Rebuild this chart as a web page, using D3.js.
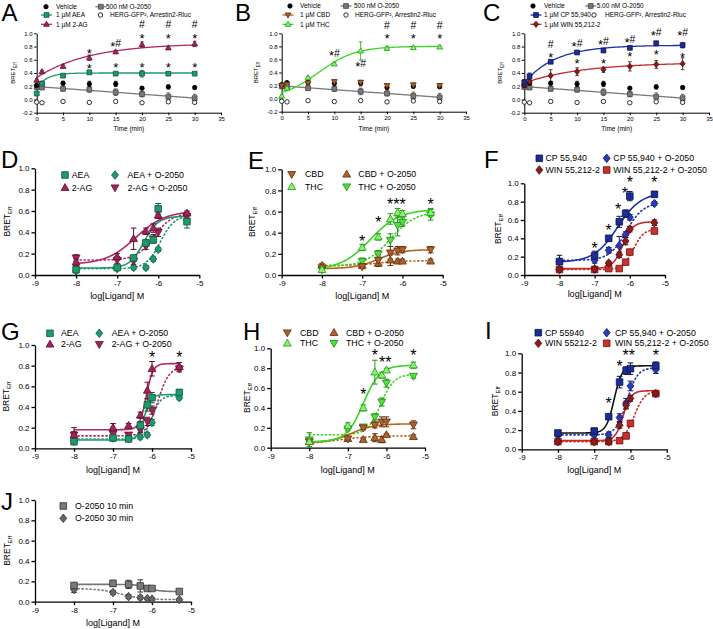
<!DOCTYPE html>
<html><head><meta charset="utf-8">
<script src="https://cdn.jsdelivr.net/npm/d3@7"></script>
<style>body{margin:0;background:#fff}svg{display:block}</style>
</head><body><svg id="c" width="713" height="629"></svg>
<script>
// ================= DATA =================
const timePoints=[0,1,5,10,15,20,25,30];
const logConc=[-8,-7,-6.6,-6.3,-6.12,-6,-5.3];
const timeXTicks=[0,5,10,15,20,25,30,35];
const timeYTicks=[-0.2,0,0.2,0.4,0.6,0.8,1.0];
const doseXTicks=[-9,-8,-7,-6,-5];
const doseYTicks=[0,0.2,0.4,0.6,0.8,1.0];

// time courses (A-C)
const vehicleT=[0.21,0.245,0.245,0.235,0.235,0.17,0.19,0.18];
const vehicleTErr=[0.03,0.02,0.03,0.04,0.04,0.02,0.03,0.02];
const o2050T=[0.19,0.18,0.16,0.15,0.11,0.08,0.04,0.02];
const o2050TErr=[0.04,0.03,0.03,0.04,0.05,0.04,0.06,0.06];
const hergT=[-0.04,-0.05,-0.03,-0.045,-0.03,-0.05,-0.035,-0.045];
const aeaT=[0.09,0.24,0.36,0.41,0.39,0.39,0.39,0.39];
const aeaTErr=[0.02,0.02,0.02,0.03,0.02,0.05,0.02,0.02];
const ag2T=[0.29,0.42,0.50,0.63,0.72,0.83,0.78,0.84];
const ag2TErr=[0.02,0.02,0.02,0.04,0.02,0.04,0.02,0.04];
const cbdT=[0.20,0.22,0.24,0.26,0.25,0.20,0.21,0.20];
const cbdTErr=[0.03,0.03,0.03,0.03,0.03,0.02,0.03,0.03];
const thcT=[0.04,0.16,0.32,0.53,0.73,0.77,0.78,0.79];
const thcTErr=[0.02,0.03,0.02,0.02,0.14,0.03,0.02,0.02];
const cpT=[0.26,0.35,0.57,0.71,0.74,0.78,0.85,0.82];
const cpTErr=[0.04,0.05,0.02,0.02,0.03,0.02,0.02,0.04];
const winT=[0.22,0.27,0.36,0.42,0.45,0.50,0.53,0.54];
const winTErr=[0.02,0.03,0.09,0.06,0.04,0.07,0.06,0.09];
// fitted curve parameters (time)
const o2050TFit=[0.195,-0.0058];          // linear
const aeaTFit=[0.16,0.40,0.55];           // one-phase association
const ag2TFit=[0.33,0.85,0.10];
const thcTFit=[0,0.80,7,3.5];             // logistic
const cpTFit=[0.25,0.82,0.17];
const winTFit=[0.25,0.56,0.09];

// D
const aeaD=[0.05,0.07,0.16,0.30,0.33,0.62,0.50], aeaDErr=[0.03,0.02,0.02,0.03,0.03,0.05,0.06];
const ag2D=[0.12,0.17,0.34,0.41,0.44,0.56,0.58], ag2DErr=[0.03,0.03,0.10,0.03,0.04,0.03,0.02];
const aeaOD=[0.04,0.06,0.07,0.07,0.15,0.24,0.52], aeaODErr=[0.01,0.01,0.02,0.02,0.02,0.02,0.04];
const ag2OD=[0.16,0.14,0.13,0.27,0.34,0.40,0.55], ag2ODErr=[0.03,0.03,0.03,0.03,0.04,0.04,0.04];
const aeaDFit=[0.065,0.55,-6.35,2.5], ag2DFit=[0.10,0.60,-6.55,1.2], aeaODFit=[0.06,0.56,-5.95,2.5], ag2ODFit=[0.14,0.58,-6.1,2];
// E
const cbdE=[0.07,0.08,0.14,0.21,0.23,0.24,0.24], cbdEErr=[0.02,0.02,0.05,0.06,0.04,0.03,0.03];
const thcE=[0.05,0.26,0.36,0.53,0.59,0.58,0.59], thcEErr=[0.02,0.03,0.03,0.05,0.04,0.03,0.04];
const cbdOE=[0.09,0.09,0.11,0.14,0.13,0.13,0.13], cbdOEErr=[0.02,0.02,0.03,0.05,0.02,0.02,0.02];
const thcOE=[0.05,0.13,0.20,0.33,0.47,0.50,0.57], thcOEErr=[0.02,0.03,0.03,0.06,0.10,0.04,0.05];
const cbdEFit=[0.06,0.24,-6.6,1.5], thcEFit=[0.05,0.62,-6.8,1.2], cbdOEFit=[0.09,0.135,-6.6,1.5], thcOEFit=[0.08,0.60,-6.3,1.4];
// F
const cpF=[0.145,0.21,0.40,0.58,0.67,0.86,0.88], cpFErr=[0.07,0.05,0.03,0.06,0.04,0.05,0.03];
const winF=[0.06,0.065,0.13,0.22,0.37,0.50,0.57], winFErr=[0.02,0.02,0.02,0.03,0.04,0.03,0.03];
const cpOF=[0.15,0.16,0.27,0.32,0.44,0.63,0.78], cpOFErr=[0.02,0.03,0.03,0.10,0.03,0.03,0.02];
const winOF=[0.06,0.06,0.07,0.07,0.14,0.25,0.48], winOFErr=[0.02,0.03,0.02,0.02,0.02,0.02,0.03];
const cpFFit=[0.14,0.90,-6.35,1.3], winFFit=[0.07,0.58,-6.2,3], cpOFFit=[0.16,0.79,-6.1,1.8], winOFFit=[0.06,0.50,-5.9,3];
// G
const aeaG=[0.065,0.10,0.09,0.22,0.42,0.49,0.54], aeaGErr=[0.03,0.03,0.02,0.04,0.06,0.05,0.03];
const ag2G=[0.13,0.20,0.22,0.32,0.56,0.77,0.79], ag2GErr=[0.03,0.04,0.02,0.03,0.08,0.07,0.04];
const aeaOG=[0.07,0.10,0.10,0.11,0.13,0.25,0.49], aeaOGErr=[0.02,0.02,0.02,0.02,0.02,0.03,0.02];
const ag2OG=[0.13,0.14,0.13,0.18,0.26,0.37,0.77], ag2OGErr=[0.07,0.02,0.02,0.03,0.04,0.04,0.03];
const aeaGFit=[0.08,0.52,-6.2,5], ag2GFit=[0.18,0.82,-6.15,5], aeaOGFit=[0.09,0.51,-6.0,4], ag2OGFit=[0.12,0.79,-5.85,3];
// H
const cbdH=[0.06,0.09,0.20,0.23,0.26,0.26,0.23], cbdHErr=[0.02,0.02,0.02,0.03,0.05,0.05,0.04];
const thcH=[0.06,0.22,0.40,0.76,0.73,0.78,0.83], thcHErr=[0.02,0.03,0.03,0.12,0.03,0.02,0.03];
const cbdOH=[0.06,0.09,0.08,0.10,0.08,0.13,0.11], cbdOHErr=[0.02,0.02,0.01,0.04,0.03,0.01,0.02];
const thcOH=[0.08,0.19,0.21,0.31,0.46,0.65,0.72], thcOHErr=[0.07,0.02,0.02,0.03,0.04,0.04,0.02];
const cbdHFit=[0.05,0.24,-6.9,1.5], thcHFit=[0.06,0.83,-6.6,2], cbdOHFit=[0.03,0.12,-7.3,1], thcOHFit=[0.13,0.74,-6.15,2.5];
// I
const cpI=[0.17,0.19,0.34,0.70,0.82,0.84,0.87], cpIErr=[0.02,0.03,0.02,0.06,0.04,0.06,0.04];
const winI=[0.08,0.08,0.08,0.25,0.46,0.53,0.58], winIErr=[0.02,0.02,0.02,0.03,0.04,0.03,0.02];
const cpOI=[0.15,0.15,0.15,0.33,0.48,0.66,0.83], cpOIErr=[0.02,0.02,0.03,0.04,0.05,0.05,0.04];
const winOI=[0.08,0.08,0.08,0.09,0.14,0.27,0.58], winOIErr=[0.02,0.02,0.02,0.02,0.03,0.03,0.02];
const cpIFit=[0.17,0.87,-6.45,4], winIFit=[0.09,0.61,-6.2,4], cpOIFit=[0.15,0.85,-6.1,3], winOIFit=[0.08,0.61,-5.9,3];
// J
const o10J=[0.16,0.18,0.17,0.155,0.13,0.13,0.10], o10JErr=[0.02,0.03,0.04,0.06,0.02,0.02,0.02];
const o30J=[0.12,0.09,0.05,0.04,0.03,0.025,0.02], o30JErr=[0.03,0.02,0.02,0.02,0.01,0.01,0.01];
const o10JFit=[0.17,0.10,-6.1,3], o30JFit=[0.13,0.02,-6.8,1.5];

// significance labels [x, y, text]
const notesA=[[10,0.74,'*'],[10,0.52,'*'],[15,0.85,'*#'],[15,0.53,'*'],[20,1.13,'#'],[20,0.96,'*'],[20,0.53,'*'],[25,1.13,'#'],[25,0.96,'*'],[25,0.53,'*'],[30,1.13,'#'],[30,0.96,'*'],[30,0.53,'*']];
const notesB=[[10,0.70,'*#'],[15,0.54,'*#'],[20,1.13,'#'],[20,0.96,'*'],[25,1.13,'#'],[25,0.96,'*'],[30,1.13,'#'],[30,0.96,'*']];
const notesC=[[5,0.84,'#'],[5,0.68,'*'],[10,0.85,'*#'],[10,0.59,'*'],[15,0.88,'*#'],[15,0.59,'*'],[20,0.91,'*#'],[20,0.69,'*'],[25,1.01,'*#'],[25,0.72,'*'],[30,1.01,'*#'],[30,0.68,'*']];
const notesE=[[-7,0.356,'*'],[-6.6,0.536,'*'],[-6.15,0.70,'***'],[-5.3,0.70,'*']];
const notesF=[[-7,0.327,'*'],[-6.6,0.527,'*'],[-6.33,0.76,'*'],[-6.14,0.93,'*'],[-6,1.05,'*'],[-5.3,1.05,'*']];
const notesG=[[-6,0.92,'*'],[-5.3,0.92,'*']];
const notesH=[[-6.6,0.574,'*'],[-6.3,0.966,'*'],[-6.03,0.90,'**'],[-5.3,0.966,'*']];
const notesI=[[-6.6,0.514,'*'],[-6.3,0.90,'*'],[-6.05,1.02,'**'],[-5.3,1.02,'*']];

// ================= STYLES =================
const FONT='"Liberation Sans", Arial, Helvetica, sans-serif';
const ST={
 vehicle:{m:'circle',fill:'#000',stroke:'#000'},
 herg:{m:'circle',fill:'#fff',stroke:'#000'},
 o2050:{m:'square',fill:'#7a7a7a',stroke:'#454545',line:'#7a7a7a'},
 aea:{m:'square',fill:'#1d9b6c',stroke:'#0c5a3a',line:'#1f9a6a'},
 aeaO:{m:'diamond',fill:'#1d9b6c',stroke:'#0c5a3a',line:'#1f9a6a'},
 ag2:{m:'tri',fill:'#a4225e',stroke:'#60102f',line:'#b0286a'},
 ag2O:{m:'tridown',fill:'#a4225e',stroke:'#60102f',line:'#b0286a'},
 cbd:{m:'tridown',fill:'#b0602a',stroke:'#5e300e',line:'#b5651d'},
 cbdO:{m:'tri',fill:'#b0602a',stroke:'#5e300e',line:'#b5651d'},
 thc:{m:'tri',fill:'#8cf070',stroke:'#229a18',line:'#38d620'},
 thcO:{m:'tridown',fill:'#4fe23a',stroke:'#1e8a14',line:'#38d620'},
 cp:{m:'square',fill:'#1c2d96',stroke:'#0a1450',line:'#1a32a8'},
 cpO:{m:'diamond',fill:'#2a3cb4',stroke:'#0e1a6a',line:'#1a32a8'},
 win:{m:'diamond',fill:'#8c1c1c',stroke:'#4a0a0a',line:'#c42a2a'},
 winO:{m:'square',fill:'#c8322a',stroke:'#701010',line:'#c42a2a'},
 cpI:{m:'square',fill:'#1c2d96',stroke:'#0a1450',line:'#111'},
 o10:{m:'square',fill:'#7a7a7a',stroke:'#333',line:'#777'},
 o30:{m:'diamond',fill:'#666',stroke:'#333',line:'#777'}
};
const TOP={tick:2.5,pad:1.5,axisW:1,tickFont:6,legFont:6.5,titleFont:6.5,ylabFont:6,subFont:4.5,mr:2.4,cap:1.8,lineW:1.3,errW:0.8,star:13,hash:10.5};
const LOW={tick:3.5,pad:2,axisW:1.3,tickFont:8,legFont:8.8,titleFont:9,ylabFont:8.5,subFont:6,mr:3.3,cap:2.8,lineW:1.6,errW:1,star:16,hash:12};

const panels=[
{L:'A',lp:[1.5,20.5],t:true,box:[36.7,221,33.3,112.7],ylx:13,xly:131,notes:notesA,
 series:[
  {name:'500 nM O-2050',y:o2050T,e:o2050TErr,st:'o2050',fit:{type:'linear',p:o2050TFit}},
  {name:'Vehicle',y:vehicleT,e:vehicleTErr,st:'vehicle'},
  {name:'HERG-GFP², Arrestin2-Rluc',y:hergT,st:'herg'},
  {name:'1 µM AEA',y:aeaT,e:aeaTErr,st:'aea',fit:{type:'assoc',p:aeaTFit}},
  {name:'1 µM 2-AG',y:ag2T,e:ag2TErr,st:'ag2',fit:{type:'assoc',p:ag2TFit}}],
 legend:[[1,46,56,6.7],[0,100.8,106,6.7],[3,46.5,56,15],[2,100.5,110,15],[4,46.5,56,24.3]]},
{L:'B',lp:[235,20.5],t:true,box:[281.7,466,33.3,111.7],ylx:256,xly:131,notes:notesB,
 series:[
  {name:'500 nM O-2050',y:o2050T,e:o2050TErr,st:'o2050',fit:{type:'linear',p:o2050TFit}},
  {name:'Vehicle',y:vehicleT,e:vehicleTErr,st:'vehicle'},
  {name:'HERG-GFP², Arrestin2-Rluc',y:hergT,st:'herg'},
  {name:'1 µM CBD',y:cbdT,e:cbdTErr,st:'cbd',legLine:true},
  {name:'1 µM THC',y:thcT,e:thcTErr,st:'thc',fit:{type:'logistic',p:thcTFit}}],
 legend:[[1,290,300,6],[0,346,354,6],[3,288,300,15],[2,346,355,15],[4,288,300,24.3]]},
{L:'C',lp:[483,20.5],t:true,box:[524.3,709,33.3,112.7],ylx:500,xly:131,notes:notesC,
 series:[
  {name:'5.00 nM O-2050',y:o2050T,e:o2050TErr,st:'o2050',fit:{type:'linear',p:o2050TFit}},
  {name:'Vehicle',y:vehicleT,e:vehicleTErr,st:'vehicle'},
  {name:'HERG-GFP², Arrestin2-Rluc',y:hergT,st:'herg'},
  {name:'1 µM WIN 55,212-2',y:winT,e:winTErr,st:'win',fit:{type:'assoc',p:winTFit}},
  {name:'1 µM CP 55,940',y:cpT,e:cpTErr,st:'cp',fit:{type:'assoc',p:cpTFit}}],
 legend:[[1,533,544,6],[0,590.7,596.7,6],[4,536,544,15],[2,594,605,15],[3,536,544,24.3]]},
{L:'D',lp:[1,168],box:[35,199.3,168.3,275],ylx:7,xly:299,notes:[],
 series:[
  {name:'AEA + O-2050',y:aeaOD,e:aeaODErr,st:'aeaO',fit:{p:aeaODFit,dash:true}},
  {name:'2-AG + O-2050',y:ag2OD,e:ag2ODErr,st:'ag2O',fit:{p:ag2ODFit,dash:true}},
  {name:'AEA',y:aeaD,e:aeaDErr,st:'aea',fit:{p:aeaDFit}},
  {name:'2-AG',y:ag2D,e:ag2DErr,st:'ag2',fit:{p:ag2DFit}}],
 legend:[[2,65,71.7,175],[0,115,127.5,175],[3,65,71.7,187.7],[1,115,127.5,187.7]]},
{L:'E',lp:[248,169],box:[281.7,442.7,169.3,275],ylx:252,xly:299,notes:notesE,
 series:[
  {name:'CBD + O-2050',y:cbdOE,e:cbdOEErr,st:'cbdO',fit:{p:cbdOEFit,dash:true}},
  {name:'THC + O-2050',y:thcOE,e:thcOEErr,st:'thcO',fit:{p:thcOEFit,dash:true}},
  {name:'CBD',y:cbdE,e:cbdEErr,st:'cbd',fit:{p:cbdEFit}},
  {name:'THC',y:thcE,e:thcEErr,st:'thc',fit:{p:thcEFit}}],
 legend:[[2,291.7,305,174.3],[0,346.7,358.3,174.3],[3,291.7,305,186.7],[1,346.7,358.3,186.7]]},
{L:'F',lp:[484,168],box:[524.3,665,183.3,275],ylx:498,xly:297,notes:notesF,
 series:[
  {name:'CP 55,940 + O-2050',y:cpOF,e:cpOFErr,st:'cpO',fit:{p:cpOFFit,dash:true}},
  {name:'WIN 55,212-2 + O-2050',y:winOF,e:winOFErr,st:'winO',fit:{p:winOFFit,dash:true}},
  {name:'CP 55,940',y:cpF,e:cpFErr,st:'cp',fit:{p:cpFFit}},
  {name:'WIN 55,212-2',y:winF,e:winFErr,st:'win',fit:{p:winFFit}}],
 legend:[[2,539.3,545.5,158.3],[0,606.7,613.3,158.3],[3,539.3,545.5,170],[1,606.7,613.3,170]]},
{L:'G',lp:[1,340],box:[35,191,345,448.3],ylx:5.5,xly:473,notes:notesG,
 series:[
  {name:'AEA + O-2050',y:aeaOG,e:aeaOGErr,st:'aeaO',fit:{p:aeaOGFit,dash:true}},
  {name:'2-AG + O-2050',y:ag2OG,e:ag2OGErr,st:'ag2O',fit:{p:ag2OGFit,dash:true}},
  {name:'AEA',y:aeaG,e:aeaGErr,st:'aea',fit:{p:aeaGFit}},
  {name:'2-AG',y:ag2G,e:ag2GErr,st:'ag2',fit:{p:ag2GFit}}],
 legend:[[2,50,61,333.3],[0,99.3,111.7,333.3],[3,50,61,344.3],[1,99.3,111.7,344.3]]},
{L:'H',lp:[243,340],box:[270.7,425,348.3,447.7],ylx:247,xly:473,notes:notesH,
 series:[
  {name:'CBD + O-2050',y:cbdOH,e:cbdOHErr,st:'cbdO',fit:{p:cbdOHFit,dash:true}},
  {name:'THC + O-2050',y:thcOH,e:thcOHErr,st:'thcO',fit:{p:thcOHFit,dash:true}},
  {name:'CBD',y:cbdH,e:cbdHErr,st:'cbd',fit:{p:cbdHFit}},
  {name:'THC',y:thcH,e:thcHErr,st:'thc',fit:{p:thcHFit}}],
 legend:[[2,287.3,300,332.7],[0,334,346,332.7],[3,287.3,300,343.3],[1,334,346,343.3]]},
{L:'I',lp:[485,339],box:[521.7,666.7,353.3,449.3],ylx:495,xly:473,notes:notesI,
 series:[
  {name:'CP 55,940 + O-2050',y:cpOI,e:cpOIErr,st:'cpO',fit:{p:cpOIFit,dash:true}},
  {name:'WIN 55,212-2 + O-2050',y:winOI,e:winOIErr,st:'winO',fit:{p:winOIFit,dash:true}},
  {name:'WIN 55212-2',y:winI,e:winIErr,st:'win',fit:{p:winIFit}},
  {name:'CP 55940',y:cpI,e:cpIErr,st:'cpI',fit:{p:cpIFit}}],
 legend:[[3,538.3,545,332.7],[0,606.7,615,332.7],[2,538.3,545,343.3],[1,606.7,615,343.3]]},
{L:'J',lp:[1,510],box:[35,191,500,601.7],ylx:7,xly:626,notes:[],
 series:[
  {name:'O-2050 30 min',y:o30J,e:o30JErr,st:'o30',fit:{p:o30JFit,dash:true}},
  {name:'O-2050 10 min',y:o10J,e:o10JErr,st:'o10',fit:{p:o10JFit}}],
 legend:[[1,63.3,75,506],[0,63.3,75,518.3]]}
];

// ================= DRAW =================
const svg=d3.select('#c');
function fitFn(type,p){
  if(type==='assoc') return x=>p[0]+(p[1]-p[0])*(1-Math.exp(-p[2]*x));
  if(type==='logistic') return x=>p[0]+(p[1]-p[0])/(1+Math.exp(-(x-p[2])/p[3]));
  if(type==='linear') return x=>p[0]+p[1]*x;
  return x=>p[0]+(p[1]-p[0])/(1+Math.pow(10,(p[2]-x)*p[3]));
}
function mpath(t,r){
  switch(t){
    case 'square': return `M${-r},${-r}H${r}V${r}H${-r}Z`;
    case 'tri': return `M0,${-r*1.25}L${r*1.2},${r*0.85}L${-r*1.2},${r*0.85}Z`;
    case 'tridown': return `M0,${r*1.25}L${r*1.2},${-r*0.85}L${-r*1.2},${-r*0.85}Z`;
    case 'diamond': return `M0,${-r*1.3}L${r*1.05},0L0,${r*1.3}L${-r*1.05},0Z`;
    default: { const c=r*0.92; return `M${c},0A${c},${c} 0 1,1 ${-c},0A${c},${c} 0 1,1 ${c},0Z`; }
  }
}
function marker(g,st,x,y,S){
  g.append('path').attr('d',mpath(st.m,S.mr)).attr('transform',`translate(${x},${y})`)
   .attr('fill',st.fill).attr('stroke',st.stroke).attr('stroke-width',0.8);
}
function drawPanel(P){
  const S=P.t?TOP:LOW;
  const g=svg.append('g');
  const xs=d3.scaleLinear().domain(P.t?[0,35]:[-9,-5]).range([P.box[0],P.box[1]]);
  const ys=d3.scaleLinear().domain(P.t?[-0.2,1.0]:[0,1.0]).range([P.box[3],P.box[2]]);
  const xv=P.t?timePoints:logConc;
  g.append('text').attr('x',P.lp[0]).attr('y',P.lp[1]).attr('font-family',FONT).attr('font-size',24).text(P.L);
  const ax=g.append('g').attr('transform',`translate(0,${P.box[3]})`)
    .call(d3.axisBottom(xs).tickValues(P.t?timeXTicks:doseXTicks).tickSize(S.tick).tickSizeOuter(0).tickPadding(S.pad).tickFormat(d=>String(d)));
  const ay=g.append('g').attr('transform',`translate(${P.box[0]},0)`)
    .call(d3.axisLeft(ys).tickValues(P.t?timeYTicks:doseYTicks).tickSize(S.tick).tickSizeOuter(0).tickPadding(S.pad).tickFormat(d=>d.toFixed(1)));
  [ax,ay].forEach(a=>{
    a.selectAll('path,line').attr('stroke','#000').attr('stroke-width',S.axisW);
    a.selectAll('text').attr('font-family',FONT).attr('font-size',S.tickFont).attr('fill','#000');
  });
  const cx=(P.box[0]+P.box[1])/2, cy=(P.box[2]+P.box[3])/2;
  g.append('text').attr('x',cx).attr('y',P.xly).attr('text-anchor','middle').attr('font-family',FONT)
   .attr('font-size',S.titleFont).text(P.t?'Time (min)':'log[Ligand] M');
  const yl=g.append('text').attr('transform',`translate(${P.ylx+S.ylabFont*0.36},${cy}) rotate(-90)`)
   .attr('text-anchor','middle').attr('font-family',FONT).attr('font-size',S.ylabFont);
  yl.append('tspan').text('BRET');
  yl.append('tspan').attr('font-size',S.subFont).attr('dy',S.subFont*0.35).text('Eff');
  P.series.forEach(s=>{
    if(!s.fit) return;
    const st=ST[s.st];
    const f=fitFn(s.fit.type||'hill',s.fit.p);
    const dom=P.t?[0,30]:[-8,-5.3];
    const pts=d3.range(0,201).map(i=>{const x=dom[0]+(dom[1]-dom[0])*i/200;return [x,f(x)];});
    g.append('path').attr('d',d3.line().x(d=>xs(d[0])).y(d=>ys(d[1]))(pts))
     .attr('fill','none').attr('stroke',st.line).attr('stroke-width',S.lineW)
     .attr('stroke-dasharray',s.fit.dash?'1.2,2.8':null).attr('stroke-linecap',s.fit.dash?'round':'butt');
  });
  P.series.forEach(s=>{
    if(!s.e) return;
    const st=ST[s.st];
    s.y.forEach((v,i)=>{
      const x=xs(xv[i]), y1=ys(v-s.e[i]), y2=ys(v+s.e[i]);
      const col=st.stroke;
      g.append('line').attr('x1',x).attr('x2',x).attr('y1',y1).attr('y2',y2).attr('stroke',col).attr('stroke-width',S.errW);
      [y1,y2].forEach(yy=>g.append('line').attr('x1',x-S.cap).attr('x2',x+S.cap).attr('y1',yy).attr('y2',yy).attr('stroke',col).attr('stroke-width',S.errW));
    });
  });
  P.series.forEach(s=>{
    const st=ST[s.st];
    s.y.forEach((v,i)=>marker(g,st,xs(xv[i]),ys(v),S));
  });
  P.notes.forEach(n=>{
    const t=g.append('text').attr('x',xs(n[0])).attr('y',ys(n[1])).attr('text-anchor','middle').attr('font-family',FONT);
    let prev=0;
    for(const ch of n[2]){
      const fs=ch==='*'?S.star:S.hash;
      const off=ch==='*'?0.58*fs:0.36*fs;
      t.append('tspan').attr('font-size',fs).attr('dy',off-prev).text(ch);
      prev=off;
    }
  });
  P.legend.forEach(([si,sx,tx,ly])=>{
    const s=P.series[si], st=ST[s.st];
    if(P.t && (s.fit||s.legLine)){
      g.append('line').attr('x1',sx-5.5).attr('x2',sx+5.5).attr('y1',ly).attr('y2',ly).attr('stroke',st.line||st.fill).attr('stroke-width',S.lineW);
    }
    marker(g,st,sx,ly,S);
    g.append('text').attr('x',tx).attr('y',ly).attr('dy','0.35em').attr('font-family',FONT).attr('font-size',S.legFont).text(s.name);
  });
}
panels.forEach(drawPanel);
</script></body></html>
